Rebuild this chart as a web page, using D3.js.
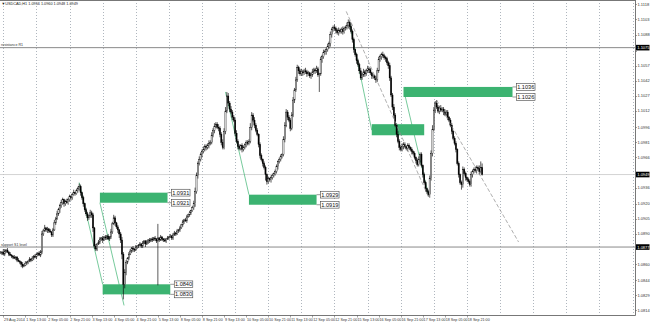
<!DOCTYPE html>
<html><head><meta charset="utf-8">
<script src="https://cdn.jsdelivr.net/npm/d3@7"></script>
<style>html,body{margin:0;padding:0;background:#fff;}svg{display:block;font-family:"Liberation Sans",Arial,sans-serif;}</style>
</head><body><svg id="c" width="650" height="322"></svg>
<script>
// ---------- data ----------
const symbolTitle = "USDCAD,H1";
const basePrice = 1.08;            // candle values below are pips above this price
const firstOpen = 71;
const closes = [
 71,72,70,73,74,72,70,69,68,67,
 66,67,64,63,62,60,58,59,61,62,
 63,65,64,66,68,67,70,71,69,72,
 90,93,96,94,95,93,92,89,94,101,
 105,110,114,118,121,124,120,122,121,124,
 127,126,129,131,130,133,135,137,131,126,
 120,114,110,106,108,111,109,96,78,75,
 80,82,85,86,84,87,86,88,85,87,
 92,100,106,101,97,94,90,84,70,40,
 52,62,66,70,73,76,75,74,77,78,
 79,80,78,81,83,80,82,84,83,85,
 84,86,85,83,86,84,87,85,84,83,
 85,86,87,88,86,89,91,90,93,94,
 96,99,102,104,103,107,109,111,113,116,
 120,132,148,160,164,169,172,174,177,176,
 178,180,181,188,193,197,199,196,195,189,
 181,176,192,212,227,220,214,211,206,203,
 190,182,177,175,178,174,176,179,181,180,
 182,196,208,203,198,193,189,179,168,164,
 160,156,149,142,145,144,146,148,150,152,
 157,162,164,167,169,184,198,211,206,203,
 195,208,223,233,243,255,252,249,251,250,
 252,251,249,250,247,248,251,253,252,254,
 248,249,263,266,270,271,273,276,279,288,
 293,295,294,292,290,292,291,293,291,294,
 295,297,300,296,291,283,273,268,262,258,
 252,245,248,251,249,252,254,253,250,247,
 247,245,243,252,263,266,268,267,265,264,
 260,257,245,228,216,208,198,189,182,176,
 174,177,179,177,175,178,176,174,172,170,
 166,163,159,164,169,158,149,141,135,132,
 129,145,170,194,213,220,216,212,215,213,
 214,211,209,211,206,203,198,192,185,180,
 174,160,149,141,139,154,150,146,144,142,
 139,149,152,154,153,156,155,152,156,149
];
const upperWicks = [
 2,1,3,2,1,2,1,2,1,1, 2,1,1,2,1,1,2,1,2,1, 1,2,1,2,1,2,1,1,2,2, 3,2,3,1,2,1,2,1,2,3,
 2,3,2,2,3,2,1,2,3,2, 2,1,2,3,1,2,2,3,2,1, 2,1,2,2,1,3,2,2,1,2, 1,2,2,1,2,1,2,1,2,1,
 3,2,3,2,1,2,1,2,3,2, 3,2,1,2,2,1,2,1,2,1, 1,2,1,2,1,1,2,1,2,1, 2,1,2,1,14,1,2,1,1,2,
 1,2,1,2,1,2,2,1,2,1, 2,1,2,1,2,2,1,2,1,2, 3,4,3,2,3,2,2,3,2,2, 2,3,2,3,2,3,2,2,3,2,
 2,3,3,4,4,3,2,3,2,2, 2,3,2,2,1,2,2,1,2,2, 2,4,3,2,3,2,2,1,2,2, 1,2,2,1,2,1,2,2,1,2,
 2,1,2,2,1,3,3,3,2,2, 2,3,3,2,3,3,2,2,3,2, 2,3,2,2,1,2,3,2,2,3, 2,1,3,2,3,2,2,3,2,3,
 2,2,3,2,2,3,2,2,3,2, 2,3,3,2,3,2,2,1,2,2, 2,3,2,3,2,2,3,2,2,1, 2,1,2,3,3,2,2,3,2,2,
 2,2,3,2,2,3,2,2,3,2, 2,3,2,2,1,2,2,1,2,1, 2,1,2,3,2,2,1,2,2,1, 2,3,3,4,3,2,3,2,2,3,
 2,2,3,2,2,1,2,2,1,2, 2,1,2,1,2,3,2,2,1,2, 2,3,2,2,3,2,2,3,6,4
];
const lowerWicks = [
 1,2,1,2,2,1,2,1,2,2, 1,2,2,1,2,3,2,1,1,2, 2,1,2,1,2,1,2,2,1,2, 2,2,1,2,3,2,1,2,2,1,
 2,1,2,3,2,2,3,2,1,2, 2,3,2,1,2,1,2,2,3,2, 3,2,2,3,2,2,3,4,3,2, 2,1,2,2,3,1,2,2,1,2,
 2,2,1,3,2,3,4,3,5,15, 4,3,2,2,1,2,3,2,1,2, 2,1,2,2,1,3,1,2,2,1, 2,1,2,2,44,2,1,2,2,1,
 2,1,2,1,2,2,1,2,1,2, 2,1,2,2,1,2,1,2,2,1, 2,3,2,3,2,2,3,2,2,3, 2,3,2,2,2,3,2,2,3,3,
 3,2,2,3,2,3,3,2,3,2, 3,2,3,2,2,3,2,2,3,2, 2,2,3,2,3,2,2,3,3,2, 3,2,6,3,2,2,3,2,2,2,
 2,3,2,2,2,2,3,2,3,2, 3,2,2,3,2,2,3,2,2,3, 2,2,3,2,2,3,2,2,3,2, 2,17,2,3,2,2,3,2,2,3,
 3,2,2,3,2,3,2,2,3,2, 2,2,3,3,2,3,3,2,3,2, 3,2,2,2,3,2,2,3,2,3, 3,2,3,2,2,2,3,2,2,3,
 2,3,3,2,3,3,2,3,2,3, 2,2,3,2,2,3,2,2,3,2, 2,3,2,2,3,2,3,2,3,2, 2,3,2,3,2,3,2,2,3,2,
 2,3,2,2,3,2,2,3,2,2, 3,2,3,2,5,3,2,3,2,2, 2,2,3,2,2,3,2,3,2,1
];
const timeLabels = ["29 Aug 2014","1 Sep 13:00","2 Sep 05:00","2 Sep 21:00","3 Sep 13:00","4 Sep 05:00",
 "4 Sep 21:00","5 Sep 13:00","8 Sep 05:00","8 Sep 21:00","9 Sep 13:00","10 Sep 05:00","10 Sep 21:00",
 "11 Sep 13:00","12 Sep 05:00","12 Sep 21:00","15 Sep 13:00","16 Sep 05:00","16 Sep 21:00",
 "17 Sep 13:00","18 Sep 05:00","18 Sep 21:00"];
const timeLabelBars = [2,18,34,50,66,82,98,114,130,146,162,178,194,210,226,242,258,274,290,306,322,338];
const gridBars = [2,26,50,74,98,122,146,170,194,218,242,266,290,314,338,362,386,410,434,458];
const priceTicks = [1.1118,1.1103,1.1088,1.1072,1.1057,1.1042,1.1027,1.1012,1.0996,1.0981,1.0966,
 1.0951,1.0936,1.0920,1.0905,1.0890,1.0875,1.0860,1.0844,1.0829,1.0814];
const levelPrices = [1.1075, 1.0877];
const levelTexts = ["resistance R1", "support S1 level"];
const zoneFrom   = [72, 74, 180, 269, 292];
const zoneTo     = [121, 123, 229, 307, 371];
const zoneTop    = [1.0931, 1.0840, 1.0929, 1.0999, 1.1036];
const zoneBottom = [1.0921, 1.0830, 1.0919, 1.0988, 1.1026];
const zoneLabelled = [true, true, true, false, true];
const trendFrom = [[57,1.0941],[72,1.0921],[163,1.1031],[253,1.1099],[293,1.1028]];
const trendTo   = [[74,1.0840],[89.5,1.0819],[180,1.0929],[269,1.0993],[310,1.0929]];
const dashFrom  = [[250.5,1.1111],[316,1.1023]];
const dashTo    = [[310,1.0927],[375.4,1.0882]];

// ---------- build ----------
const bars = closes.map((c,i)=>{
  const o = i===0 ? firstOpen : closes[i-1];
  return {i, o: basePrice+o/1e4, c: basePrice+c/1e4,
          h: basePrice+(Math.max(o,c)+upperWicks[i])/1e4,
          l: basePrice+(Math.min(o,c)-lowerWicks[i])/1e4};
});
const last = bars[bars.length-1];

const plotR=635, plotB=315;
const svg = d3.select("#c");
const x = d3.scaleLinear().domain([0,460]).range([0.54, 0.54+1.38*460]);
const y = d3.scaleLinear().domain([1.0840,1.1036]).range([284.3, 284.3-196*1.007]);

svg.append("defs").append("clipPath").attr("id","pc").append("rect")
 .attr("x",0).attr("y",0).attr("width",plotR).attr("height",plotB);
const g = svg.append("g").attr("clip-path","url(#pc)");

// vertical grid
g.selectAll("line.grid").data(gridBars).join("line")
 .attr("x1",d=>Math.round(x(d))+0.5).attr("x2",d=>Math.round(x(d))+0.5)
 .attr("y1",0).attr("y2",plotB)
 .attr("stroke","#9aa3ad").attr("stroke-width",0.8).attr("stroke-dasharray","1,2");

// bid line
g.append("line").attr("x1",0).attr("x2",plotR).attr("y1",y(last.c)).attr("y2",y(last.c))
 .attr("stroke","#c8c8c8").attr("stroke-width",0.8);

// horizontal levels
g.selectAll("line.lvl").data(levelPrices).join("line")
 .attr("x1",0).attr("x2",plotR).attr("y1",d=>y(d)).attr("y2",d=>y(d))
 .attr("stroke","#8a8a8a").attr("stroke-width",1);
g.selectAll("text.lvl").data(levelPrices).join("text")
 .attr("x",1).attr("y",d=>y(d)-1.5).attr("font-size",3.6).attr("fill","#333")
 .text((d,i)=>levelTexts[i]);

// zones
const zoneIdx = d3.range(zoneFrom.length);
g.selectAll("rect.zone").data(zoneIdx).join("rect")
 .attr("x",i=>x(zoneFrom[i])).attr("width",i=>x(zoneTo[i])-x(zoneFrom[i]))
 .attr("y",i=>y(zoneTop[i])).attr("height",i=>y(zoneBottom[i])-y(zoneTop[i]))
 .attr("fill","#3cb371");

// green trend lines
g.selectAll("line.tr").data(d3.range(trendFrom.length)).join("line")
 .attr("x1",i=>x(trendFrom[i][0])).attr("y1",i=>y(trendFrom[i][1]))
 .attr("x2",i=>x(trendTo[i][0])).attr("y2",i=>y(trendTo[i][1]))
 .attr("stroke","#3cb371").attr("stroke-width",0.7);

// candles
const cg = g.append("g");
cg.selectAll("line.w").data(bars).join("line")
 .attr("x1",d=>x(d.i)).attr("x2",d=>x(d.i)).attr("y1",d=>y(d.h)).attr("y2",d=>y(d.l))
 .attr("stroke","#000").attr("stroke-width",0.65);
cg.selectAll("rect.b").data(bars).join("rect")
 .attr("x",d=>x(d.i)-0.6).attr("width",1.2)
 .attr("y",d=>y(Math.max(d.o,d.c))).attr("height",d=>Math.max(0.6,Math.abs(y(d.o)-y(d.c))))
 .attr("fill",d=>d.c>=d.o?"#fff":"#000").attr("stroke","#000").attr("stroke-width",0.4);

// dashed gray lines
g.selectAll("line.ds").data(d3.range(dashFrom.length)).join("line")
 .attr("x1",i=>x(dashFrom[i][0])).attr("y1",i=>y(dashFrom[i][1]))
 .attr("x2",i=>x(dashTo[i][0])).attr("y2",i=>y(dashTo[i][1]))
 .attr("stroke","#8c8c8c").attr("stroke-width",0.7).attr("stroke-dasharray","4,2");

// zone price labels
const fmt = d3.format(".4f");
const zl = [];
zoneIdx.forEach(i=>{ if(zoneLabelled[i]){ zl.push({x:x(zoneTo[i]),p:zoneTop[i]}); zl.push({x:x(zoneTo[i]),p:zoneBottom[i]}); }});
const zlg = svg.append("g").selectAll("g").data(zl).join("g");
zlg.append("line").attr("x1",d=>d.x).attr("x2",d=>d.x+4).attr("y1",d=>y(d.p)).attr("y2",d=>y(d.p))
 .attr("stroke","#555").attr("stroke-width",0.6);
zlg.append("rect").attr("x",d=>d.x+4).attr("y",d=>y(d.p)-3.4).attr("width",18.5).attr("height",6.8)
 .attr("fill","#fff").attr("stroke","#444").attr("stroke-width",0.6);
zlg.append("text").attr("x",d=>d.x+13.25).attr("y",d=>y(d.p)+2).attr("text-anchor","middle")
 .attr("font-size",5.6).attr("fill","#111").text(d=>fmt(d.p));

// frame
svg.append("line").attr("x1",0).attr("x2",plotR).attr("y1",0.5).attr("y2",0.5).attr("stroke","#777").attr("stroke-width",1);
svg.append("line").attr("x1",0).attr("x2",plotR+0.5).attr("y1",plotB+0.5).attr("y2",plotB+0.5).attr("stroke","#777").attr("stroke-width",1);
svg.append("line").attr("x1",plotR+0.5).attr("x2",plotR+0.5).attr("y1",0).attr("y2",plotB+0.5).attr("stroke","#777").attr("stroke-width",1);

// black price boxes (levels + bid) — they cover the scale labels beneath them
const boxes = levelPrices.concat([last.c]);
const freeTicks = priceTicks.filter(t=>boxes.every(b=>Math.abs(y(t)-y(b))>5));

// price axis
const ya = svg.append("g");
ya.selectAll("line").data(priceTicks).join("line")
 .attr("x1",plotR).attr("x2",plotR+2).attr("y1",d=>Math.round(y(d))+0.5).attr("y2",d=>Math.round(y(d))+0.5)
 .attr("stroke","#666").attr("stroke-width",0.6);
ya.selectAll("text").data(freeTicks).join("text")
 .attr("x",plotR+2.5).attr("y",d=>y(d)+1.4).attr("font-size",4).attr("fill","#333").text(d=>fmt(d));

const bx = svg.append("g").selectAll("g").data(boxes).join("g");
bx.append("rect").attr("x",plotR+1).attr("y",d=>y(d)-2.8).attr("width",13.5).attr("height",5.6).attr("fill","#000");
bx.append("text").attr("x",plotR+2.3).attr("y",d=>y(d)+1.5).attr("font-size",4).attr("fill","#fff").text(d=>fmt(d));

// time axis
const xa = svg.append("g");
xa.selectAll("line").data(timeLabelBars).join("line")
 .attr("x1",d=>Math.round(x(d))+0.5).attr("x2",d=>Math.round(x(d))+0.5).attr("y1",plotB).attr("y2",plotB+2.5)
 .attr("stroke","#666").attr("stroke-width",0.6);
xa.selectAll("text").data(timeLabelBars).join("text")
 .attr("x",d=>x(d)+0.8).attr("y",plotB+5.6).attr("font-size",3.7).attr("fill","#333")
 .text((d,i)=>timeLabels[i]);

// title
svg.append("text").attr("x",1.5).attr("y",4.5).attr("font-size",3.8).attr("fill","#222")
 .text("\u25BC"+symbolTitle+"  "+[last.o,last.h,last.l,last.c].map(fmt).join(" "));
</script></body></html>
